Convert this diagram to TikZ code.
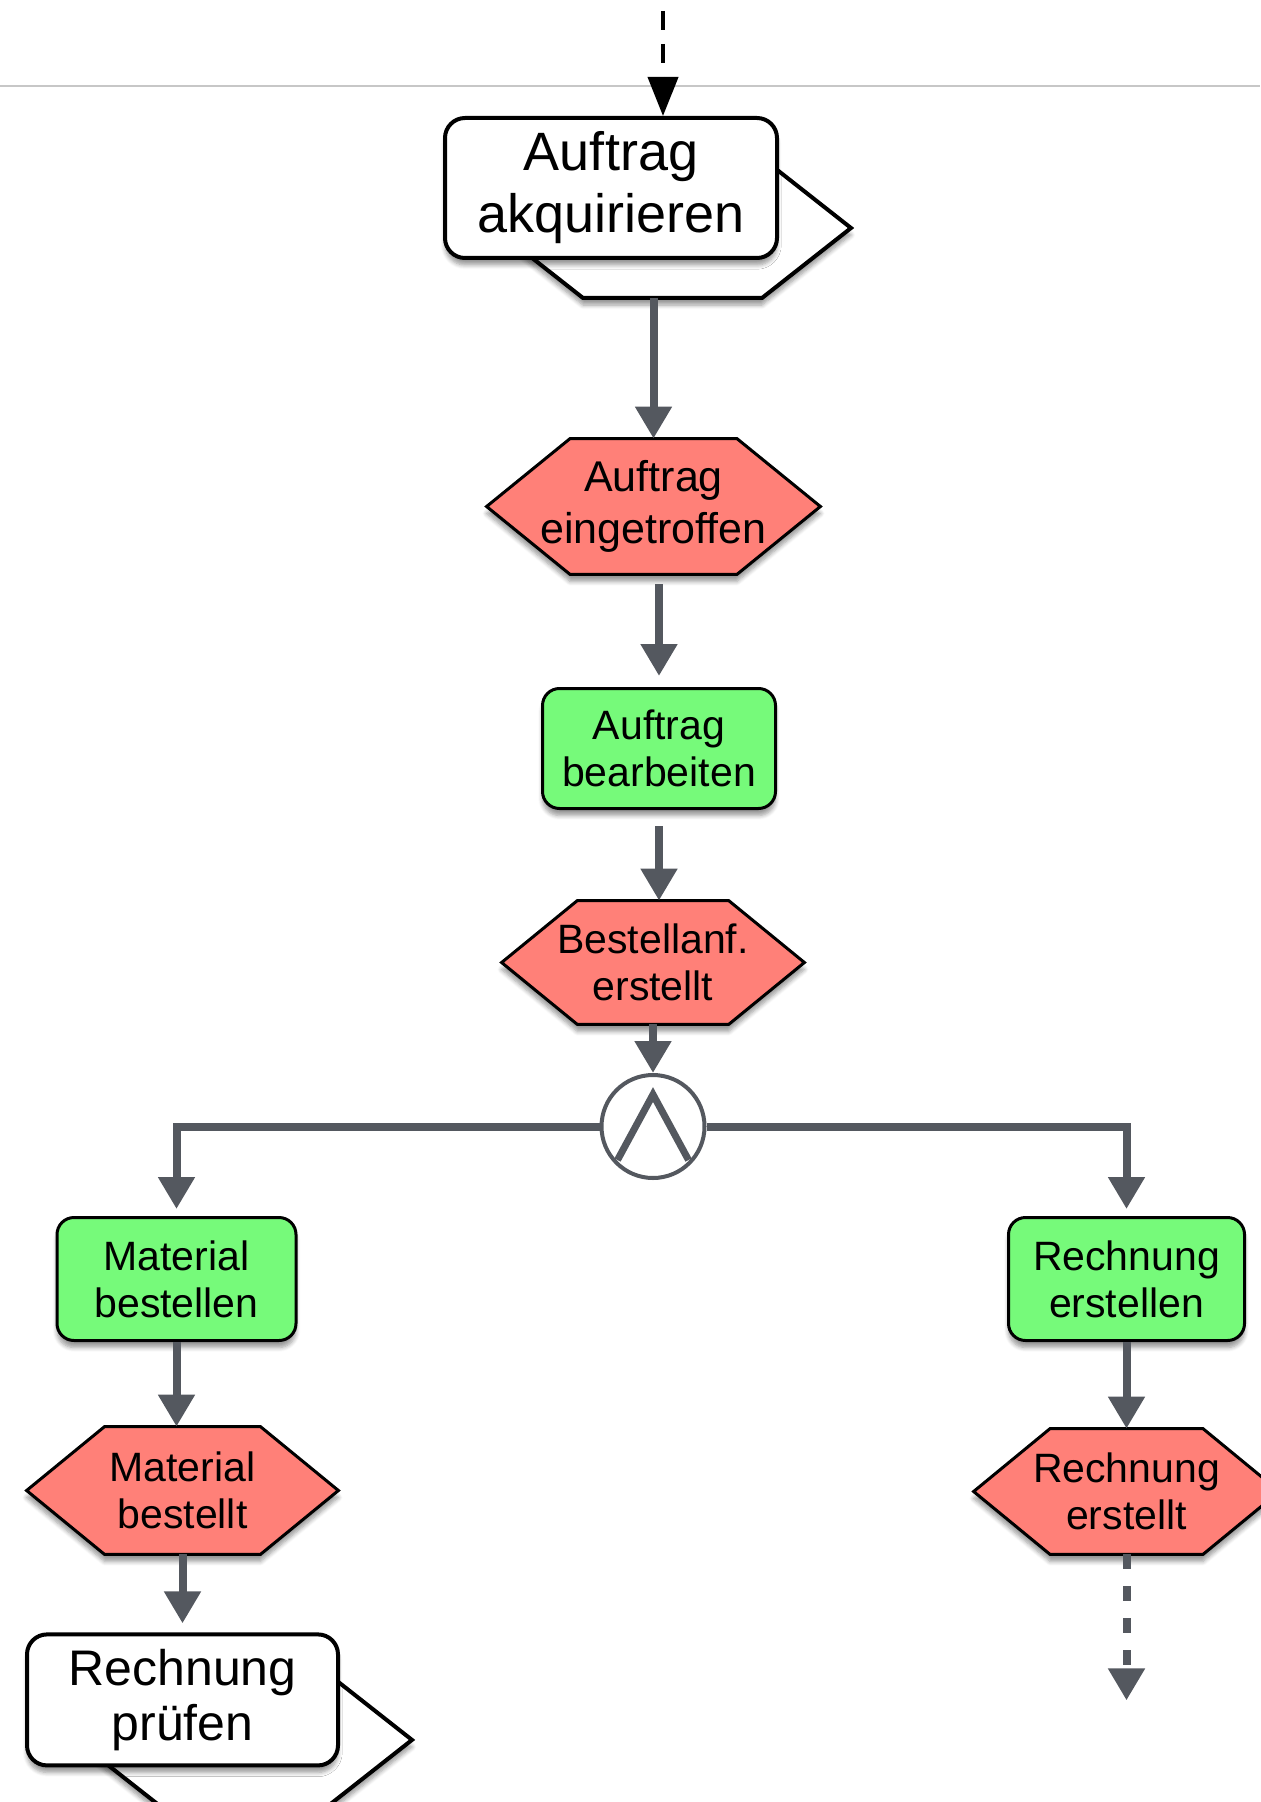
\documentclass[tikz,border=0pt]{standalone}
\usepackage{fontspec}
\setmainfont{Liberation Sans}
\usetikzlibrary{arrows.meta, positioning, calc, backgrounds, shadows.blur}

\definecolor{evtred}{RGB}{255,128,120}
\definecolor{fktgreen}{RGB}{118,250,122}
\definecolor{flowgray}{RGB}{84,88,95}

\tikzset{
  softshadow/.style={blur shadow={shadow xshift=0pt, shadow yshift=-3.5pt, shadow blur steps=6, shadow opacity=40}}
}

\begin{document}
\begin{tikzpicture}[
    func/.style={draw, line width=1.5pt, rounded corners=8.5pt, fill=fktgreen, softshadow,
      align=center, inner sep=0pt, minimum width=#1, minimum height=61.5pt,
      font=\fontsize{20.5}{23.5}\selectfont},
    event/.style={inner sep=0pt, align=center, minimum width=#1, minimum height=62pt,
      font=\fontsize{20.5}{23.5}\selectfont},
    eventbg/.style={draw, line width=1.5pt, fill=evtred, softshadow},
    iface/.style={draw, line width=2pt, rounded corners=10pt, fill=white, softshadow,
      align=center, inner sep=0pt, minimum width=#1},
    ifacebg/.style={draw, line width=2pt, fill=white, softshadow},
    flow/.style={draw=flowgray, line width=4pt, -{Triangle[width=17.5pt, length=16pt]}},
    gate/.style={circle, draw=flowgray, line width=2pt, fill=white, minimum size=51.5pt, inner sep=0pt,
      path picture={\draw[flowgray, line width=3.5pt]
        ([xshift=-17.75pt, yshift=-16.75pt]path picture bounding box.center)
        -- ([yshift=16pt]path picture bounding box.center)
        -- ([xshift=17.75pt, yshift=-16.75pt]path picture bounding box.center);}}
  ]
  \useasboundingbox (0,0) rectangle (630pt,-901pt);

  % Trennlinie oben
  \draw[black!22, line width=1pt] (0,-43pt) -- (630pt,-43pt);

  % Hauptpfad
  \node[iface=166pt, minimum height=70pt, font=\fontsize{27}{31}\selectfont] (akq) at (305.5pt,-94pt) {Auftrag\\akquirieren};
  \node[event=166.5pt, minimum height=67.5pt, font=\fontsize{21.5}{26}\selectfont, below=89.3pt of akq, xshift=21.25pt] (eingang) {Auftrag\\eingetroffen};
  \node[func=116.5pt, minimum height=60pt, below=56.3pt of eingang, xshift=2.75pt] (bearb) {Auftrag\\bearbeiten};
  \node[event=151pt, minimum height=61.5pt, below=45.3pt of bearb, xshift=-3pt] (bestanf) {Bestellanf.\\erstellt};
  \node[gate, below=24.3pt of bestanf] (und) {};

  % linker Zweig
  \node[func=119.5pt] (matb) at (88.25pt,-639.5pt) {Material\\bestellen};
  \node[event=155.5pt, minimum height=63.5pt, below=42.3pt of matb, xshift=3pt] (matbt) {Material\\bestellt};
  \node[iface=155.5pt, minimum height=65.5pt, font=\fontsize{25}{27.5}\selectfont, below=39pt of matbt] (rpruef) {Rechnung\\prüfen};

  % rechter Zweig
  \node[func=118pt] (rerst) at (563.25pt,-639.5pt) {Rechnung\\erstellen};
  \node[event=152.5pt, minimum height=62.5pt, below=43.3pt of rerst] (rerstt) {Rechnung\\erstellt};

  % Formen hinter den Knoten
  \begin{scope}[on background layer]
    \foreach \n in {eingang, bestanf, matbt, rerstt}
      \draw[eventbg] (\n.west) -- ($(\n.north west)!.25!(\n.north east)$)
        -- ($(\n.north west)!.75!(\n.north east)$) -- (\n.east)
        -- ($(\n.south west)!.75!(\n.south east)$)
        -- ($(\n.south west)!.25!(\n.south east)$) -- cycle;
    \foreach \n in {akq, rpruef}
      \draw[ifacebg] ([xshift=25.5pt, yshift=-20pt]\n.west) -- ([xshift=70pt, yshift=15pt]\n.west)
        -- ([xshift=-8.5pt, yshift=15pt]\n.east) -- ([xshift=36pt, yshift=-20pt]\n.east)
        -- ([xshift=-8.5pt, yshift=-55pt]\n.east) -- ([xshift=70pt, yshift=-55pt]\n.west) -- cycle;
  \end{scope}

  \coordinate (eintritt) at ([xshift=26pt, yshift=52.5pt]akq.north);
  \coordinate (akqfuss) at ([yshift=-55pt]akq.center);
  \coordinate[below=73pt of rerstt] (ausgang);

  \draw[black, line width=2pt, dash pattern=on 9.5pt off 7pt, -{Triangle[width=15pt, length=19.5pt]}] (eintritt) -- (eintritt |- akq.north);
  \draw[flow] (akqfuss -| eingang.north) -- (eingang.north);
  \draw[flow, shorten <=5pt, shorten >=5.5pt] (eingang.south -| bearb) -- (bearb);
  \draw[flow, shorten <=8pt] (bearb) -- (bearb |- bestanf.north);
  \draw[flow] (bestanf) -- (und);
  \draw[flow, shorten >=3.5pt] (und) -| (matb);
  \draw[flow, shorten >=3.5pt] (und) -| (rerst);
  \draw[flow] (matb) -- (matb |- matbt.north);
  \draw[flow, shorten >=4.5pt] (matbt.south -| rpruef) -- (rpruef);
  \draw[flow] (rerst) -- (rerstt);
  \draw[flow, dash pattern=on 7.5pt off 8.5pt] (rerstt) -- (ausgang);
\end{tikzpicture}
\end{document}
